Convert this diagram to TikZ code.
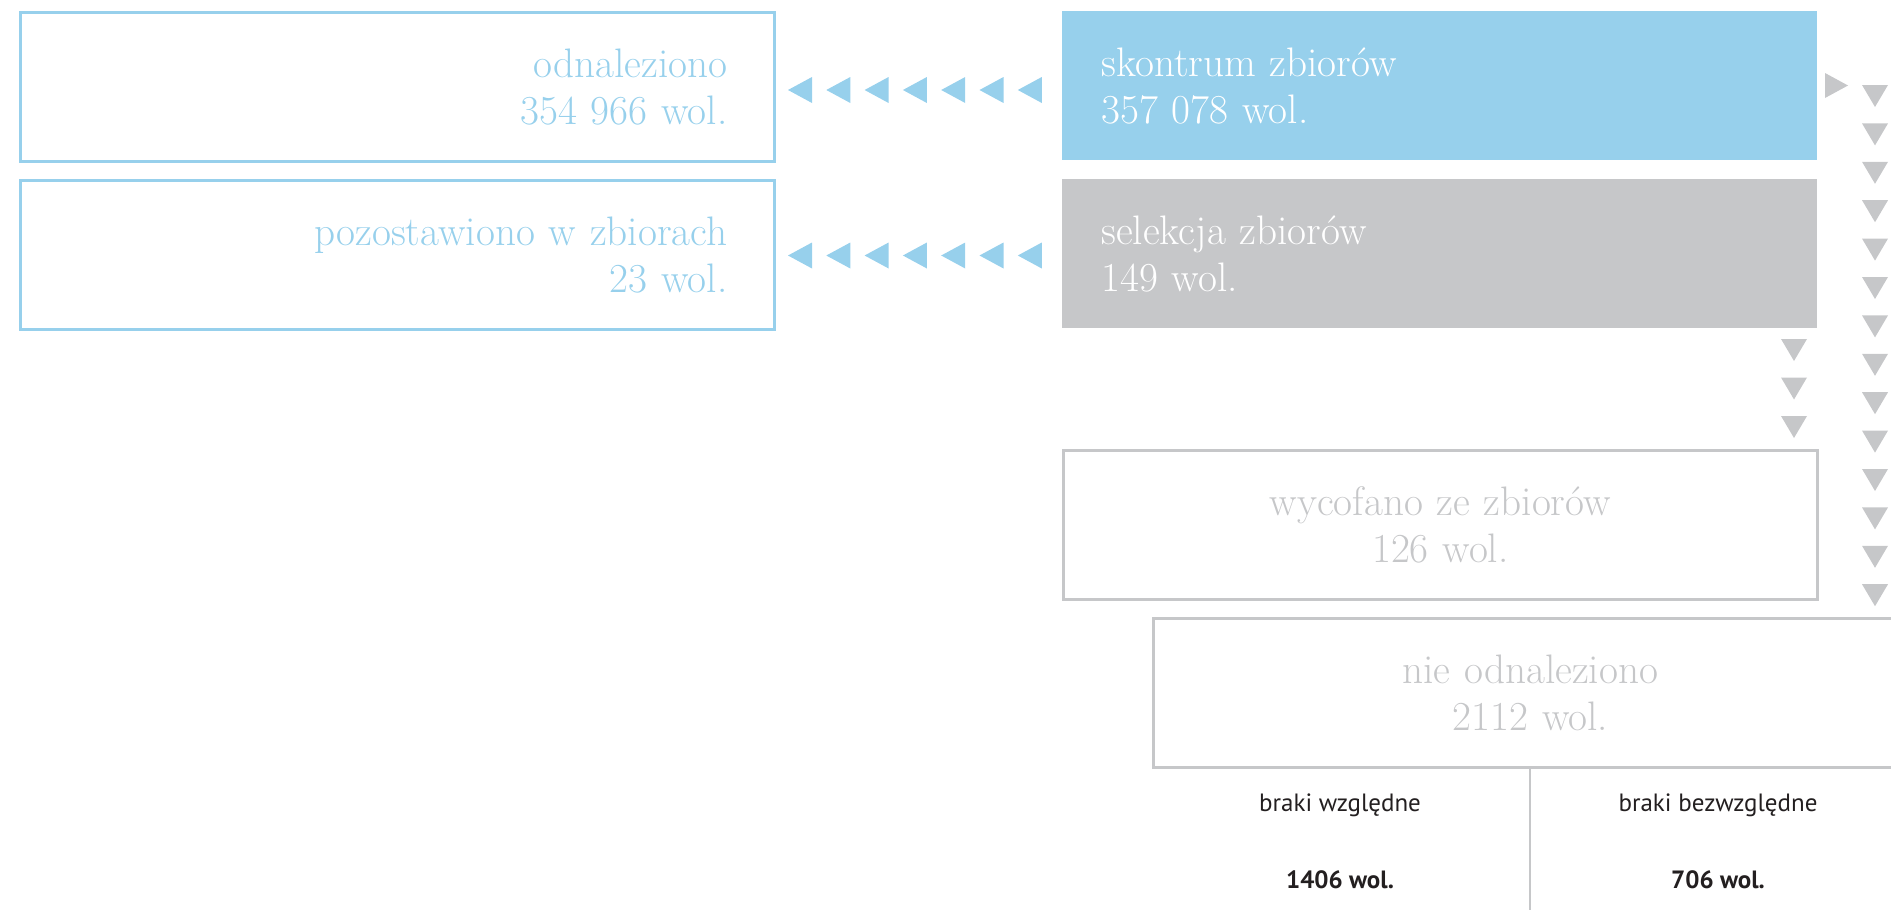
\documentclass[tikz,border=0pt]{standalone}
\usepackage{fontspec}
\setsansfont{PT Sans}
\definecolor{skyblue}{HTML}{97D0EC}
\definecolor{boxgray}{HTML}{C6C7C9}
\definecolor{textdark}{HTML}{231F20}
\newcommand{\bigserif}{\fontsize{20.6pt}{23.5pt}\selectfont}
\begin{document}
\begin{tikzpicture}[x=0.5pt,y=-0.5pt,
  box/.style={rectangle, anchor=north west, minimum height=74.5pt, font=\bigserif},
  bluebox/.style={box, draw=skyblue, line width=1.3pt, text=skyblue, inner xsep=23.5pt, text width=330pt, align=right},
  bluefill/.style={box, fill=skyblue, text=white, inner xsep=19.5pt, text width=338.5pt, align=left},
  grayfill/.style={box, fill=boxgray, text=white, inner xsep=19.5pt, text width=338.5pt, align=left},
  graybox/.style={box, draw=boxgray, line width=1.3pt, text=boxgray, inner xsep=23.5pt, text width=330pt, align=center},
  smalltext/.style={font=\sffamily\fontsize{12.5pt}{15pt}\selectfont, text=textdark}]
\useasboundingbox (0,0) rectangle (1891,910);
\node[bluebox] (odnal) at (19,11) {odnaleziono\\354 966 wol.};
\node[bluefill] (skontrum) at (1062,11) {skontrum zbiorów\\357 078 wol.};
\node[bluebox] (pozost) at (19,179) {pozostawiono w zbiorach\\23 wol.};
\node[grayfill] (selekcja) at (1062,179) {selekcja zbiorów\\149 wol.};
\node[graybox] (wycof) at (1062,449) {wycofano ze zbiorów\\126 wol.};
\node[graybox] (nieodn) at (1152,617) {nie odnaleziono\\2112 wol.};
% strzalki
\foreach \x in {0,...,6} {
  \fill[skyblue] (788+38.3*\x,90) -- ++(24,-13) -- ++(0,26) -- cycle;
  \fill[skyblue] (788+38.3*\x,255.5) -- ++(24,-13) -- ++(0,26) -- cycle;
}
\fill[boxgray] (1848,85.5) -- ++(-23,-12.5) -- ++(0,25) -- cycle;
\foreach \y in {0,...,13}
  \fill[boxgray] (1862,85+38.4*\y) -- ++(26,0) -- ++(-13,22) -- cycle;
\foreach \y in {0,...,2}
  \fill[boxgray] (1781,339+38.5*\y) -- ++(26,0) -- ++(-13,22) -- cycle;
\coordinate (lineend) at (1529,910);
\draw[boxgray, line width=1.1pt] (nieodn.south) -- (nieodn.south |- lineend);
\node[smalltext] (wzgl) at (1340,805) {braki względne};
\node[smalltext, font=\sffamily\bfseries\fontsize{12.5pt}{15pt}\selectfont] (wzglnum) at (1340,880) {1406 wol.};
\node[smalltext] (bezwzgl) at (1718,805) {braki bezwzględne};
\node[smalltext, font=\sffamily\bfseries\fontsize{12.5pt}{15pt}\selectfont] (bezwzglnum) at (1718,880) {706 wol.};
\end{tikzpicture}
\end{document}
